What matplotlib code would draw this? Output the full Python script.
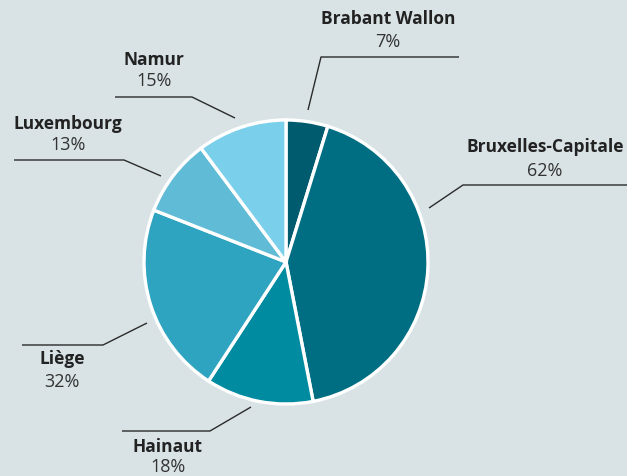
import matplotlib
matplotlib.use("Agg")
import matplotlib.pyplot as plt

regions = ["Brabant Wallon", "Bruxelles-Capitale", "Hainaut", "Liège", "Luxembourg", "Namur"]
values = [7, 62, 18, 32, 13, 15]
pct_labels = ["7%", "62%", "18%", "32%", "13%", "15%"]
colors = ["#005b6e", "#006e82", "#008ba0", "#2fa4c0", "#60bbd6", "#7ad0eb"]

# layout (pixel coords, y from top)
W, H = 627, 476
center = (286, 262)
radius = 142
# leader: start (near pie), elbow, end of horizontal
leaders = [
    [(308, 110), (321, 57), (459, 57)],
    [(429, 208), (463, 185), (627, 185)],
    [(251, 407), (210, 431), (122, 431)],
    [(147, 323), (103, 345), (22, 345)],
    [(161, 176), (124, 160), (14, 160)],
    [(235, 118), (192, 97), (115, 97)],
]
text_pos = [(388, 19, 42), (545, 147, 171), (168, 447, 467), (62, 359, 382), (68, 124, 145), (154, 60, 81)]

bg = "#d9e3e5"
fig = plt.figure(figsize=(W / 100, H / 100), dpi=100, facecolor=bg)
ax = fig.add_axes([0, 0, 1, 1])
ax.set_facecolor(bg)
ax.set_xlim(0, W)
ax.set_ylim(0, H)
ax.set_aspect("equal")
ax.axis("off")

ax.pie(values, colors=colors, startangle=90, counterclock=False,
       center=(center[0], H - center[1]), radius=radius,
       wedgeprops=dict(edgecolor="white", linewidth=2.4), frame=False)
ax.set_xlim(0, W)
ax.set_ylim(0, H)

for pts in leaders:
    xs = [p[0] for p in pts]
    ys = [H - p[1] for p in pts]
    ax.plot(xs, ys, color="#2b2b2b", linewidth=1.0, solid_capstyle="butt")

for name, pct, (x, y1, y2) in zip(regions, pct_labels, text_pos):
    ax.text(x, H - y1, name, ha="center", va="center", fontsize=12.5,
            fontweight="bold", family="Open Sans", color="#222222")
    ax.text(x, H - y2, pct, ha="center", va="center", fontsize=13,
            family="Open Sans", color="#333333")

fig.savefig("out.png", dpi=100, facecolor=bg)
